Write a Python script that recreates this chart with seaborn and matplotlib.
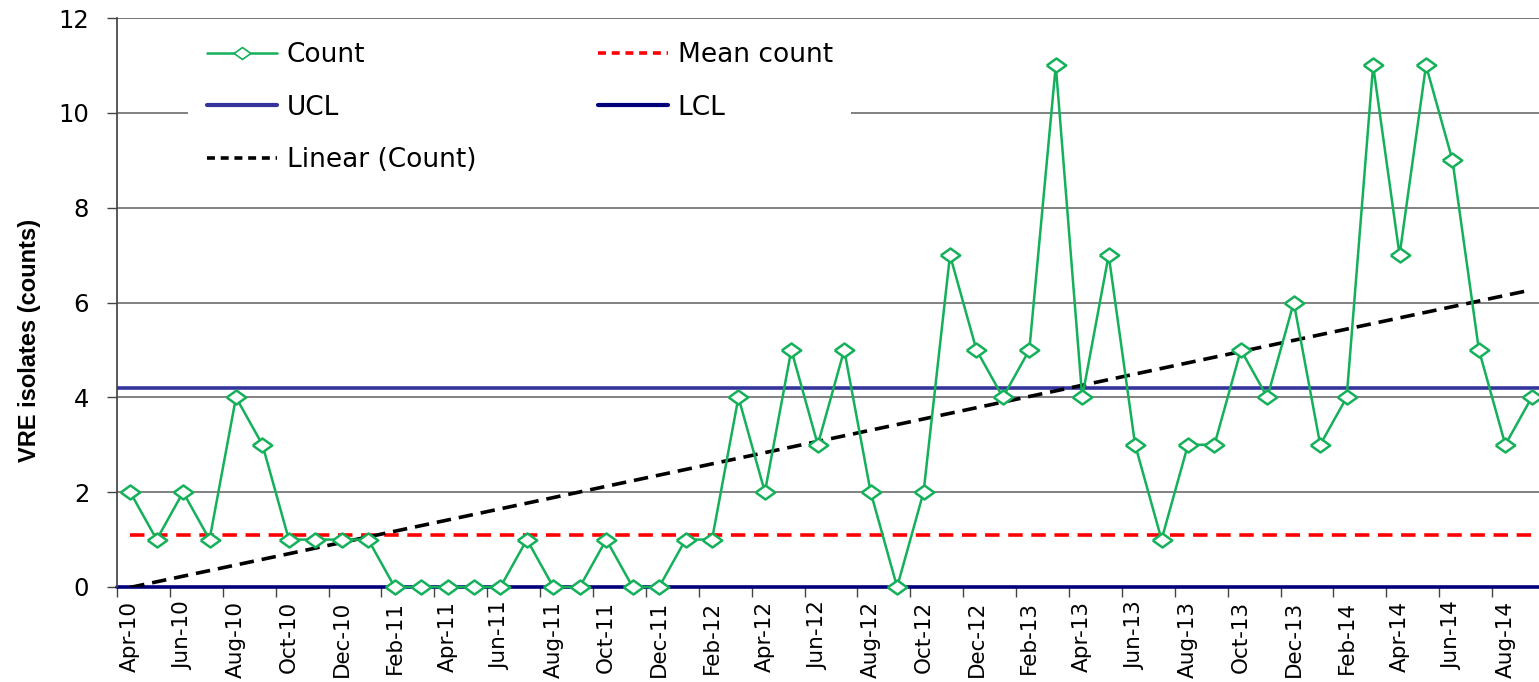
import numpy as np
import pandas as pd
import matplotlib
matplotlib.use("Agg")
import matplotlib.pyplot as plt
import seaborn as sns
from matplotlib.ticker import FixedLocator, FixedFormatter
from matplotlib.lines import Line2D

sns.set_theme(style="white")
plt.rcParams['font.family'] = ['DejaVu Sans']
plt.rcParams['text.color'] = 'black'
plt.rcParams['xtick.color'] = 'black'
plt.rcParams['ytick.color'] = 'black'
plt.rcParams['axes.labelcolor'] = 'black'

# monthly VRE isolate counts, Apr-10 .. Sep-14
months = pd.date_range("2010-04-01", "2014-09-01", freq="MS").strftime("%b-%y").tolist()
counts = [2, 1, 2, 1, 4, 3, 1, 1, 1, 1,
          0, 0, 0, 0, 0, 1, 0, 0, 1, 0,
          0, 1, 1, 4, 2, 5, 3, 5, 2, 0,
          2, 7, 5, 4, 5, 11, 4, 7, 3, 1,
          3, 3, 5, 4, 6, 3, 4, 11, 7, 11,
          9, 5, 3, 4]
mean_count = 1.1
ucl = 4.2
lcl = 0.0

df = pd.DataFrame({"idx": np.arange(len(months)), "month": months, "count": counts})
df["mean"] = mean_count

fig = plt.figure(figsize=(15.39, 6.82), dpi=100)
ax = fig.add_axes([117/1539, 95/682, 1428/1539, 569/682])

green = "#14b05a"
diamond = [(-1, 0), (0, 0.72), (1, 0), (0, -0.72), (-1, 0)]

# horizontal grid
for v in range(2, 13, 2):
    ax.axhline(v, color="#777777", lw=1.3, zorder=0.5)

ax.axhline(ucl, color="#34349c", lw=2.6, zorder=2)
ax.axhline(lcl, color="#00007a", lw=2.6, zorder=2, clip_on=False)

sns.lineplot(data=df, x="idx", y="mean", ax=ax, color="#ff0000", lw=2.6,
             dashes=False, zorder=2)
ax.lines[-1].set_dashes((4, 2.4))

sns.regplot(data=df, x="idx", y="count", ax=ax, scatter=False, ci=None,
            line_kws=dict(color="black", lw=2.6, dashes=(4, 2.2), zorder=3))

sns.lineplot(data=df, x="idx", y="count", ax=ax, color=green, lw=1.8,
             marker=diamond, markersize=14, markerfacecolor="white",
             markeredgecolor=green, markeredgewidth=1.8, zorder=4)
ax.lines[-1].set_clip_on(False)

ax.set_xlim(-0.5, len(months) - 0.5)
ax.set_ylim(0, 12)
ax.set_yticks(range(0, 13, 2))
ax.tick_params(axis="y", labelsize=17.5, length=7, width=1, color="#444444",
               pad=13, left=True, direction="out")

# x: tick marks at boundaries every 2 months, labels on the months
ax.xaxis.set_major_locator(FixedLocator(np.arange(-0.5, len(months), 2)))
ax.xaxis.set_major_formatter(FixedFormatter([]))
ax.xaxis.set_minor_locator(FixedLocator(np.arange(0, len(months), 2)))
ax.xaxis.set_minor_formatter(FixedFormatter(months[::2]))
ax.tick_params(axis="x", which="major", length=7, width=1, color="#444444",
               bottom=True, direction="out")
ax.tick_params(axis="x", which="minor", length=0, labelsize=15.5, pad=10,
               labelrotation=90, bottom=True)

for s in ["top", "right"]:
    ax.spines[s].set_visible(False)
ax.spines["left"].set_color("#444444")
ax.spines["bottom"].set_visible(False)
ax.axhline(12, color="#777777", lw=1.3, zorder=0.5)

ax.set_xlabel("")
ax.set_ylabel("VRE isolates (counts)", fontsize=17, fontweight="bold",
              family=["Liberation Sans", "DejaVu Sans"])
ax.yaxis.set_label_coords(-0.053, 0.434)

h_count = Line2D([], [], color=green, lw=1.8, marker=diamond, markersize=12,
                 markerfacecolor="white", markeredgecolor=green, markeredgewidth=1.2)
h_mean = Line2D([], [], color="#ff0000", lw=2.6, dashes=(2.2, 1.6))
h_ucl = Line2D([], [], color="#34349c", lw=3)
h_lcl = Line2D([], [], color="#00007a", lw=3)
h_lin = Line2D([], [], color="black", lw=2.6, dashes=(2.2, 1.6))
leg = ax.legend([h_count, h_ucl, h_lin, h_mean, h_lcl],
                ["Count", "UCL", "Linear (Count)", "Mean count", "LCL"],
                ncol=2, loc="upper left", bbox_to_anchor=(0.05, 0.99),
                fontsize=19, frameon=True, facecolor="white", edgecolor="none",
                framealpha=1, handlelength=2.65, handletextpad=0.38,
                labelspacing=1.0, columnspacing=4.6, borderpad=0.7,
                borderaxespad=0)
leg.set_zorder(5)

fig.savefig("out.png", dpi=100)
